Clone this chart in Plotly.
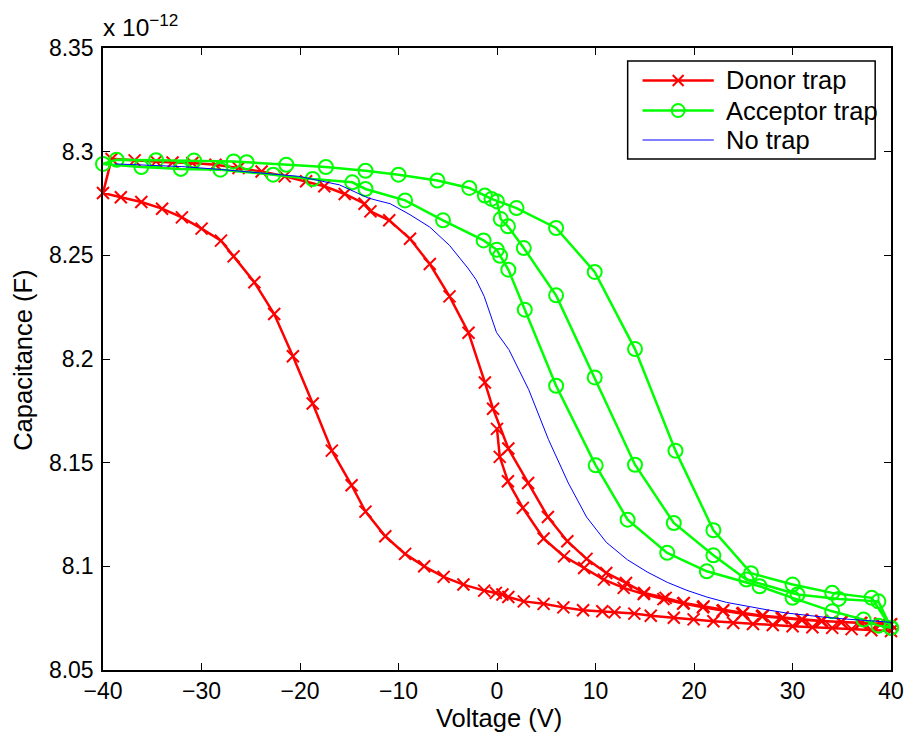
import plotly.graph_objects as go

FONT = "Liberation Sans, Arial, Helvetica, sans-serif"

# Gate voltage (V) and capacitance (units of 1e-12 F).
# Each trap case is three sweeps: 0 -> +40 V, +40 -> -40 V, -40 -> +40 V.
donor_v_s1 = [0.0, 0.28, 1.11, 2.62, 4.73, 6.81, 8.85, 10.85, 12.86, 14.9, 16.9, 18.9,
              20.9, 22.9, 24.9, 26.9, 28.9, 30.9, 32.9, 34.9, 36.9, 38.9, 40.0]
donor_c_s1 = [8.1663, 8.1528, 8.1410, 8.1282, 8.1134, 8.1048, 8.0992, 8.0936, 8.0896, 8.0866,
              8.0842, 8.0820, 8.0802, 8.0785, 8.0771, 8.0759, 8.0750, 8.0742, 8.0736, 8.0731,
              8.0727, 8.0723, 8.0721]

donor_v_s2 = [40.0, 38.0, 36.0, 34.03, 32.02, 30.01, 28.0, 25.99, 23.98, 21.97,
              19.96, 17.95, 15.61, 13.94, 11.93, 10.69, 8.74, 6.74, 4.73, 2.72,
              1.15, 0.55, -0.12, -1.3, -3.41, -5.42, -7.39, -9.33, -11.34, -13.35,
              -14.76, -16.77, -18.71, -20.72, -22.62, -24.63, -26.74, -28.02, -29.99, -31.99,
              -34.0, -36.11, -38.19, -40.0]
donor_c_s2 = [8.0688, 8.0692, 8.0697, 8.0703, 8.0706, 8.0711, 8.0717, 8.0722, 8.0727, 8.0735,
              8.0744, 8.0752, 8.0762, 8.0772, 8.0778, 8.0783, 8.0788, 8.0802, 8.0819, 8.0831,
              8.0852, 8.0864, 8.0872, 8.0883, 8.0912, 8.0949, 8.1000, 8.1060, 8.1145, 8.1264,
              8.1391, 8.1558, 8.1785, 8.2013, 8.2217, 8.2370, 8.2495, 8.2571, 8.2629, 8.2683,
              8.2725, 8.2757, 8.2780, 8.2801]

donor_v_s3 = [-39.13, -36.79, -34.61, -32.94, -30.93, -28.58, -26.24, -23.9, -21.55, -19.38,
              -17.53, -15.46, -13.45, -12.85, -10.94, -8.83, -6.82, -4.82, -2.89, -1.23,
              -0.4, 1.15, 3.16, 5.17, 7.14, 9.09, 11.09, 13.1, 14.94, 17.12,
              18.96, 20.97, 22.98, 24.99, 27.0, 29.0, 31.01, 33.0, 35.0, 37.0,
              39.0, 40.0]
donor_c_s3 = [8.2965, 8.2958, 8.2953, 8.2948, 8.2945, 8.2937, 8.2921, 8.2904, 8.2881, 8.2857,
              8.2833, 8.2796, 8.2749, 8.2712, 8.2669, 8.2580, 8.2458, 8.2302, 8.2127, 8.1887,
              8.1760, 8.1568, 8.1402, 8.1238, 8.1121, 8.1036, 8.0968, 8.0920, 8.0872, 8.0848,
              8.0823, 8.0807, 8.0788, 8.0775, 8.0762, 8.0754, 8.0743, 8.0736, 8.0731, 8.0727,
              8.0723, 8.0720]

acceptor_v_s1 = [0.0, 0.38, 1.11, 2.72, 6.0, 9.92, 14.01, 17.95, 21.97, 25.32, 30.51, 34.7,
                 38.72, 40.0]
acceptor_c_s1 = [8.2760, 8.2675, 8.2640, 8.2535, 8.2307, 8.1911, 8.1490, 8.1209, 8.1053,
                 8.0936, 8.0864, 8.0843, 8.0831, 8.0704]

acceptor_v_s2 = [38.72, 37.21, 34.03, 30.01, 26.66, 21.3, 17.28, 13.26, 10.02, 6.0,
                 2.82, 1.15, 0.31, -0.02, -1.36, -5.48, -9.33, -13.35, -14.69, -18.71,
                 -22.72, -28.08, -32.1, -36.11, -40.0]
acceptor_c_s2 = [8.0714, 8.0743, 8.0783, 8.0848, 8.0904, 8.0976, 8.1065, 8.1225, 8.1487, 8.1871,
                 8.2238, 8.2431, 8.2498, 8.2527, 8.2572, 8.2669, 8.2765, 8.2820, 8.2852, 8.2868,
                 8.2889, 8.2913, 8.2917, 8.2926, 8.2941]

acceptor_v_s3 = [-38.62, -34.61, -30.76, -26.74, -25.41, -21.39, -17.37, -13.35, -10.0, -6.05,
                 -2.81, -1.23, -0.56, 1.98, 6.0, 9.92, 14.01, 18.12, 21.97, 25.79,
                 30.01, 34.03, 38.04, 40.0]
acceptor_c_s3 = [8.2961, 8.2959, 8.2957, 8.2953, 8.2949, 8.2937, 8.2926, 8.2908, 8.2889, 8.2861,
                 8.2825, 8.2788, 8.2772, 8.2728, 8.2632, 8.2420, 8.2048, 8.1558, 8.1174, 8.0967,
                 8.0912, 8.0872, 8.0848, 8.0703]

notrap_v = [-38.79, -36.0, -32.0, -28.0, -24.0, -20.15, -16.0, -14.3, -13.1, -12.18,
            -10.84, -8.83, -6.82, -4.82, -2.97, -2.13, -1.3, -0.05, 1.21, 3.22,
            5.23, 7.24, 9.09, 11.09, 13.23, 15.24, 17.28, 19.29, 21.3, 23.31,
            25.32, 27.33, 29.34, 31.35, 33.35, 35.36, 37.37, 39.38, 40.0]
notrap_c = [8.2941, 8.2937, 8.2928, 8.2914, 8.2898, 8.2881, 8.2840, 8.2801, 8.2777, 8.2765,
            8.2749, 8.2696, 8.2636, 8.2548, 8.2439, 8.2383, 8.2302, 8.2128, 8.2045, 8.1852,
            8.1611, 8.1402, 8.1238, 8.1116, 8.1032, 8.0973, 8.0923, 8.0884, 8.0852, 8.0826,
            8.0807, 8.0791, 8.0775, 8.0764, 8.0754, 8.0746, 8.0739, 8.0732, 8.0730]

x_ticks = [-40, -30, -20, -10, 0, 10, 20, 30, 40]
y_ticks = [8.05, 8.1, 8.15, 8.2, 8.25, 8.3, 8.35]
y_tick_text = ["8.05", "8.1", "8.15", "8.2", "8.25", "8.3", "8.35"]

series_names = ["Donor trap", "Acceptor trap", "No trap"]
series_colors = ["#ff0000", "#00ff00", "#0000ff"]

# one continuous polyline per trap case, sweeps in measurement order
donor_v = donor_v_s1 + donor_v_s2 + donor_v_s3
donor_c = donor_c_s1 + donor_c_s2 + donor_c_s3
acceptor_v = acceptor_v_s1 + acceptor_v_s2 + acceptor_v_s3
acceptor_c = acceptor_c_s1 + acceptor_c_s2 + acceptor_c_s3

fig = go.Figure()
fig.add_trace(go.Scatter(
    x=donor_v, y=donor_c, name=series_names[0], mode="lines+markers",
    line=dict(color=series_colors[0], width=2.5),
    marker=dict(symbol="x-thin-open", size=12, color=series_colors[0],
                line=dict(color=series_colors[0], width=2)),
    cliponaxis=False))
fig.add_trace(go.Scatter(
    x=acceptor_v, y=acceptor_c, name=series_names[1], mode="lines+markers",
    line=dict(color=series_colors[1], width=2.5),
    marker=dict(symbol="circle-open", size=14, color=series_colors[1],
                line=dict(color=series_colors[1], width=2)),
    cliponaxis=False))
fig.add_trace(go.Scatter(
    x=notrap_v, y=notrap_c, name=series_names[2], mode="lines",
    line=dict(color=series_colors[2], width=1), cliponaxis=False))

# plot-area geometry (pixels) for placing the boxed legend and labels
L, T, W, H = 103, 48, 796, 622
TICK_SIZE = 23
LABEL_SIZE = 25.5


def fx(px):
    return (px - L) / W


def fy(py):
    return (T + H - py) / H


shapes = [dict(type="rect", xref="paper", yref="paper",
               x0=fx(633), x1=fx(883), y0=fy(159), y1=fy(61),
               line=dict(color="black", width=1.5), fillcolor="white", layer="above")]
annotations = []
row_y = [80.5, 110.5, 140]
for name, color, yy in zip(series_names, series_colors, row_y):
    shapes.append(dict(type="line", xref="paper", yref="paper",
                       x0=fx(648), x1=fx(720), y0=fy(yy), y1=fy(yy),
                       line=dict(color=color, width=2.5 if color != "#0000ff" else 1),
                       layer="above"))
    annotations.append(dict(text=name, xref="paper", yref="paper", x=fx(730), y=fy(yy),
                            xanchor="left", yanchor="middle", showarrow=False,
                            font=dict(family=FONT, size=LABEL_SIZE, color="black")))
# legend marker glyphs
cx = 684
d = 5.5
shapes.append(dict(type="path", xref="paper", yref="paper",
                   path=f"M {fx(cx - d)} {fy(row_y[0] - d)} L {fx(cx + d)} {fy(row_y[0] + d)} "
                        f"M {fx(cx - d)} {fy(row_y[0] + d)} L {fx(cx + d)} {fy(row_y[0] - d)}",
                   line=dict(color=series_colors[0], width=2), layer="above"))
r = 6.5
shapes.append(dict(type="circle", xref="paper", yref="paper",
                   x0=fx(cx - r), x1=fx(cx + r), y0=fy(row_y[1] + r), y1=fy(row_y[1] - r),
                   line=dict(color=series_colors[1], width=2), fillcolor="rgba(0,0,0,0)",
                   layer="above"))

annotations += [
    dict(text="x 10<sup>\u221212</sup>", xref="paper", yref="paper", x=fx(101), y=fy(43),
         xanchor="left", yanchor="bottom", showarrow=False,
         font=dict(family=FONT, size=24.5, color="black")),
    dict(text="Voltage (V)", xref="paper", yref="paper", x=fx(503), y=fy(718),
         xanchor="center", yanchor="middle", showarrow=False,
         font=dict(family=FONT, size=LABEL_SIZE, color="black")),
    dict(text="Capacitance (F)", xref="paper", yref="paper", x=fx(22), y=fy(360),
         xanchor="center", yanchor="middle", showarrow=False, textangle=-90,
         font=dict(family=FONT, size=LABEL_SIZE, color="black")),
]

axis_common = dict(showline=True, linecolor="black", linewidth=1.5, mirror="allticks",
                   ticks="inside", ticklen=7, tickwidth=1, tickcolor="black",
                   showgrid=False, zeroline=False,
                   tickfont=dict(family=FONT, size=TICK_SIZE, color="black"))

fig.update_layout(
    width=916, height=740,
    margin=dict(l=L, r=916 - L - W, t=T, b=740 - T - H, pad=0),
    paper_bgcolor="white", plot_bgcolor="white",
    showlegend=False,
    font=dict(family=FONT, size=TICK_SIZE, color="black"),
    xaxis=dict(range=[-40, 40], tickvals=x_ticks, **axis_common),
    yaxis=dict(range=[8.05, 8.35], tickvals=y_ticks, ticktext=y_tick_text,
               ticklabelstandoff=3, **axis_common),
    shapes=shapes, annotations=annotations,
)

fig.write_html("out.html")
